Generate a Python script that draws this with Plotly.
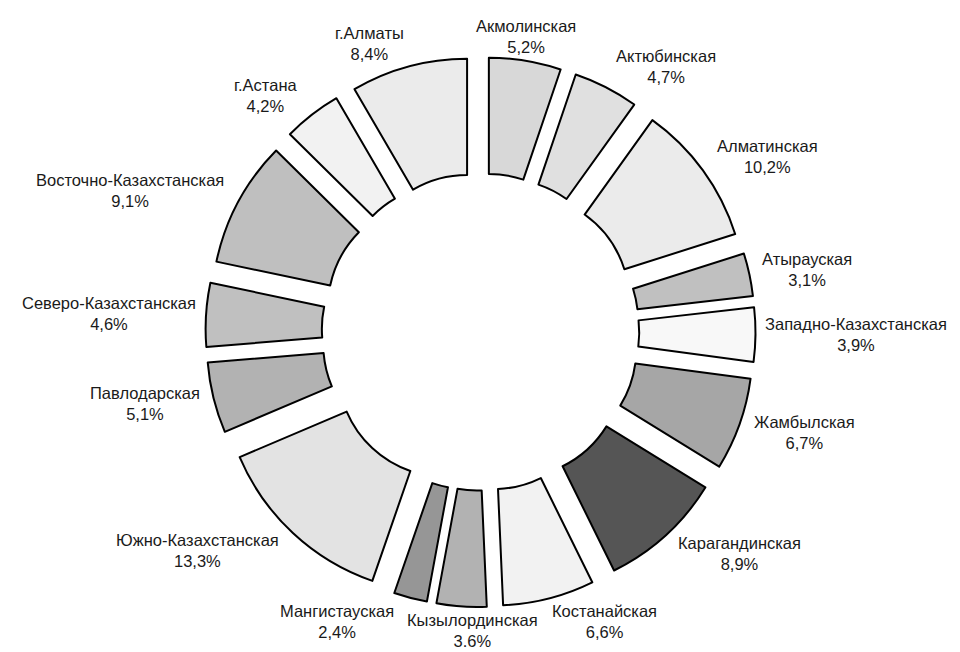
import math
import plotly.graph_objects as go

regions = ["Акмолинская", "Актюбинская", "Алматинская", "Атырауская",
           "Западно-Казахстанская", "Жамбылская", "Карагандинская", "Костанайская",
           "Кызылординская", "Мангистауская", "Южно-Казахстанская", "Павлодарская",
           "Северо-Казахстанская", "Восточно-Казахстанская", "г.Астана", "г.Алматы"]
shares = [5.2, 4.7, 10.2, 3.1, 3.9, 6.7, 8.9, 6.6, 3.6, 2.4, 13.3, 5.1, 4.6, 9.1, 4.2, 8.4]
pct_labels = ["5,2%", "4,7%", "10,2%", "3,1%", "3,9%", "6,7%", "8,9%", "6,6%",
              "3.6%", "2,4%", "13,3%", "5,1%", "4,6%", "9,1%", "4,2%", "8,4%"]
fills = ["#d8d8d8", "#e0e0e0", "#ebebeb", "#c0c0c0", "#f8f8f8", "#a6a6a6", "#555555", "#f2f2f2",
         "#b2b2b2", "#969696", "#e3e3e3", "#b2b2b2", "#c0c0c0", "#bfbfbf", "#f2f2f2", "#ebebeb"]

W, H = 960, 652
M = dict(l=0, r=15, t=49, b=53)
PULL = 0.23
HOLE = 0.48
FONT = 16.5
LINE_H = 22
PAD = 12
GAP = 8

fig = go.Figure(go.Pie(
    labels=regions,
    values=shares,
    textinfo="none",
    hole=HOLE,
    pull=[PULL] * len(shares),
    sort=False,
    direction="clockwise",
    rotation=0,
    marker=dict(colors=fills, line=dict(color="#000000", width=2)),
    showlegend=False,
    hoverinfo="label+percent",
    domain=dict(x=[0, 1], y=[0, 1]),
))

# ---- approximate text width (Arial-like metrics, em units) ----
WIDE = {"м": 0.64, "ж": 0.74, "ы": 0.68, "ш": 0.76, "ю": 0.72, "д": 0.58,
        "г": 0.36, "т": 0.44, "к": 0.44, ".": 0.28, ",": 0.28, "-": 0.33, "%": 0.89,
        "Ж": 0.92, "М": 0.83}


def text_w(t):
    tot = 0.0
    for ch in t:
        if ch in WIDE:
            tot += WIDE[ch]
        elif ch.isdigit():
            tot += 0.556
        elif ch.isupper():
            tot += 0.67
        else:
            tot += 0.53
    return tot * FONT


# ---- label placement from slice geometry (math coords, y up, origin at pie centre) ----
pw = W - M["l"] - M["r"]
ph = H - M["t"] - M["b"]
cx = M["l"] + pw / 2
cy = M["t"] + ph / 2
outer = min(pw, ph) / 2              # outer radius including pull
R = outer / (1 + PULL)
r0 = outer + 2

total = sum(shares)
cum = 0.0
labels = []
for name, val, pct in zip(regions, shares, pct_labels):
    a0 = 90 - 360 * cum / total
    a1 = 90 - 360 * (cum + val) / total
    mid = (a0 + a1) / 2
    cum += val
    th = math.radians(mid)
    c, s = math.cos(th), math.sin(th)
    off = (PULL * R * c, PULL * R * s)
    pts = []
    for k in range(41):
        ph_ = math.radians(a0 + (a1 - a0) * k / 40)
        for rr in (R, R * HOLE):
            pts.append((rr * math.cos(ph_) + off[0], rr * math.sin(ph_) + off[1]))
    w = max(text_w(name), text_w(pct))
    h = 2 * LINE_H
    ax, ay = r0 * c, r0 * s
    sx = 0 if abs(c) < 0.2 else (1 if c > 0 else -1)
    by = ay + s * h / 2
    if sx != 0:
        edge = ax
        inrange = [p[0] for p in pts if by - h / 2 <= p[1] <= by + h / 2]
        if inrange:
            if sx > 0:
                edge = max(edge, max(inrange) + GAP)
            else:
                edge = min(edge, min(inrange) - GAP)
        bx = edge + sx * w / 2
    else:
        bx = ax
    labels.append(dict(bx=bx, by=by, w=w, h=h, sx=sx, name=name, pct=pct))

# ---- simple collision relaxation between neighbouring labels ----
for _ in range(20):
    moved = False
    n = len(labels)
    for i in range(n):
        j = (i + 1) % n
        a, b = labels[i], labels[j]
        ox = (a["w"] + b["w"]) / 2 + PAD - abs(a["bx"] - b["bx"])
        oy = (a["h"] + b["h"]) / 2 - abs(a["by"] - b["by"])
        if ox > 0 and oy > 0:
            sgn = 1 if b["bx"] >= a["bx"] else -1
            a["bx"] -= sgn * ox / 2
            b["bx"] += sgn * ox / 2
            moved = True
    if not moved:
        break

annotations = []
for L in labels:
    if L["sx"] > 0:
        xpx, xa = cx + L["bx"] - L["w"] / 2, "left"
    elif L["sx"] < 0:
        xpx, xa = cx + L["bx"] + L["w"] / 2, "right"
    else:
        xpx, xa = cx + L["bx"], "center"
    ypx = cy - L["by"]
    annotations.append(dict(
        x=(xpx - M["l"]) / pw, y=1 - (ypx - M["t"]) / ph,
        xref="paper", yref="paper",
        text=f"{L['name']}<br>{L['pct']}",
        showarrow=False, xanchor=xa, yanchor="middle",
        align="center",
        font=dict(family="Liberation Sans, Arial, sans-serif", size=FONT, color="#1a1a1a"),
    ))

fig.update_layout(
    width=W, height=H,
    margin=M,
    paper_bgcolor="white",
    plot_bgcolor="white",
    annotations=annotations,
)

fig.write_html("out.html")
